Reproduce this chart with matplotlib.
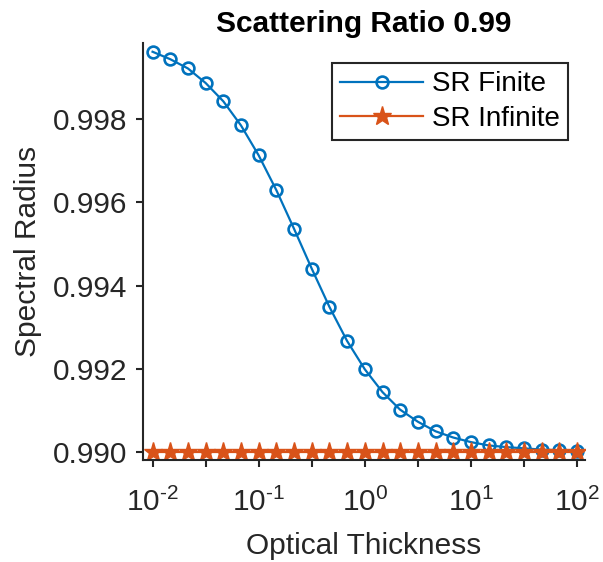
import numpy as np
import matplotlib
matplotlib.use('Agg')
import matplotlib.pyplot as plt
from matplotlib.ticker import FixedLocator, FuncFormatter

plt.rcParams['font.family'] = ['Liberation Sans', 'DejaVu Sans']
plt.rcParams['mathtext.fontset'] = 'custom'
plt.rcParams['mathtext.rm'] = 'Liberation Sans'
plt.rcParams['mathtext.it'] = 'Liberation Sans'
plt.rcParams['mathtext.default'] = 'regular'

# optical thickness, 6 points per decade from 1e-2 to 1e2
tau = [0.01, 0.0147, 0.0215, 0.0316, 0.0464, 0.0681, 0.1, 0.147, 0.215, 0.316,
       0.464, 0.681, 1.0, 1.47, 2.15, 3.16, 4.64, 6.81, 10.0, 14.7, 21.5, 31.6,
       46.4, 68.1, 100.0]
sr_finite = [0.99962, 0.99944, 0.99922, 0.99887, 0.99843, 0.99785, 0.99713,
             0.99629, 0.99537, 0.99441, 0.99349, 0.99267, 0.99199, 0.99144,
             0.99102, 0.99073, 0.99050, 0.99035, 0.99024, 0.99016, 0.99012,
             0.99009, 0.99006, 0.99004, 0.99003]
sr_infinite = [0.99] * 25

blue = '#0072BD'
orange = '#D95319'
axcol = '#262626'

fig = plt.figure(figsize=(6.03, 5.62), dpi=100)
ax = fig.add_axes([143/603, 1 - 460/562, (585-143)/603, (460-43)/562])

ax.plot(tau, sr_finite, '-o', color=blue, lw=1.6, ms=8.5, mew=1.9,
        mfc='none', label='SR Finite')
ax.plot(tau, sr_infinite, '-*', color=orange, lw=1.6, ms=14, mew=1,
        label='SR Infinite')

ax.set_xscale('log')
ax.set_xlim(10**-2.09, 10**2.075)
ax.set_ylim(0.98981, 0.99983)

ax.xaxis.set_major_locator(FixedLocator([10**(k/2) for k in range(-4, 5)]))
ax.xaxis.set_minor_locator(FixedLocator([]))
def xfmt(v, pos):
    e = np.log10(v)
    if abs(e - round(e)) < 1e-6:
        if e < 0:
            return r'$10^{\text{-}%d}$' % abs(round(e))
        return r'$10^{%d}$' % round(e)
    return ''
ax.xaxis.set_major_formatter(FuncFormatter(xfmt))
ax.set_yticks([0.990, 0.992, 0.994, 0.996, 0.998])
ax.yaxis.set_major_formatter(FuncFormatter(lambda v, p: '%.3f' % v))

for s in ['top', 'right']:
    ax.spines[s].set_visible(False)
for s in ['left', 'bottom']:
    ax.spines[s].set_color(axcol)
    ax.spines[s].set_linewidth(1.5)
ax.tick_params(direction='out', length=5, width=1.5, color=axcol,
               labelcolor=axcol, labelsize=21.5, pad=6)
ax.tick_params(axis='x', pad=15)

ax.set_xlabel('Optical Thickness', fontsize=21.5, color=axcol, labelpad=11)
ax.set_ylabel('Spectral Radius', fontsize=21.5, color=axcol, labelpad=8)
ax.set_title('Scattering Ratio 0.99', fontsize=21.5, fontweight='bold', pad=8)

leg = ax.legend(loc='upper right', bbox_to_anchor=(0.9615, 0.952), fontsize=20,
                fancybox=False, edgecolor=axcol, framealpha=1,
                handlelength=3.0, borderpad=0.3, labelspacing=0.3,
                handletextpad=0.3, borderaxespad=0)
leg.get_frame().set_linewidth(1.5)

fig.savefig('out.png', dpi=100)
